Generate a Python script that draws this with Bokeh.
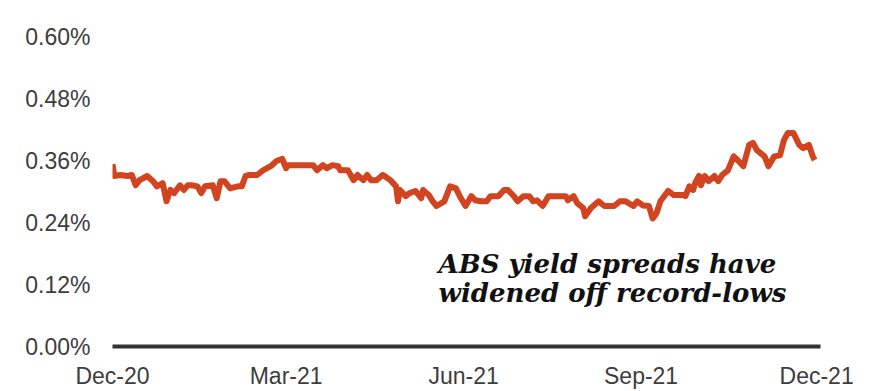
import pandas as pd
from bokeh.plotting import figure
from bokeh.models import (FixedTicker, PrintfTickFormatter, DatetimeTickFormatter,
                          Label, Range1d)
from bokeh.embed import file_html
from bokeh.resources import INLINE

# ABS yield spread, % (Dec-2020 to Dec-2021)
dates = [
    "2020-12-01", "2020-12-02", "2020-12-05", "2020-12-09", "2020-12-11", "2020-12-13",
    "2020-12-15", "2020-12-19", "2020-12-22", "2020-12-24", "2020-12-27", "2020-12-29",
    "2020-12-31", "2021-01-02", "2021-01-05", "2021-01-07", "2021-01-09", "2021-01-11",
    "2021-01-14", "2021-01-16", "2021-01-18", "2021-01-22", "2021-01-24", "2021-01-26",
    "2021-01-28", "2021-01-31", "2021-02-04", "2021-02-06", "2021-02-08", "2021-02-10",
    "2021-02-14", "2021-02-17", "2021-02-21", "2021-02-24", "2021-02-27", "2021-03-01",
    "2021-03-02", "2021-03-15", "2021-03-17", "2021-03-20", "2021-03-22", "2021-03-25",
    "2021-03-28", "2021-03-29", "2021-04-02", "2021-04-05", "2021-04-07", "2021-04-10",
    "2021-04-12", "2021-04-14", "2021-04-17", "2021-04-20", "2021-04-21", "2021-04-24",
    "2021-04-27", "2021-04-28", "2021-04-29", "2021-05-02", "2021-05-04", "2021-05-07",
    "2021-05-10", "2021-05-11", "2021-05-14", "2021-05-16", "2021-05-18", "2021-05-22",
    "2021-05-25", "2021-05-28", "2021-05-30", "2021-06-02", "2021-06-05", "2021-06-07",
    "2021-06-10", "2021-06-13", "2021-06-15", "2021-06-19", "2021-06-22", "2021-06-24",
    "2021-06-27", "2021-06-29", "2021-07-02", "2021-07-05", "2021-07-07", "2021-07-09",
    "2021-07-12", "2021-07-15", "2021-07-24", "2021-07-25", "2021-07-28", "2021-07-30",
    "2021-08-02", "2021-08-03", "2021-08-06", "2021-08-10", "2021-08-13", "2021-08-18",
    "2021-08-21", "2021-08-24", "2021-08-28", "2021-08-30", "2021-09-02", "2021-09-05",
    "2021-09-07", "2021-09-09", "2021-09-11", "2021-09-15", "2021-09-18", "2021-09-23",
    "2021-09-24", "2021-09-26", "2021-09-28", "2021-09-29", "2021-10-01", "2021-10-02",
    "2021-10-04", "2021-10-06", "2021-10-09", "2021-10-11", "2021-10-13", "2021-10-16",
    "2021-10-19", "2021-10-21", "2021-10-24", "2021-10-27", "2021-10-29", "2021-10-31",
    "2021-11-04", "2021-11-06", "2021-11-09", "2021-11-12", "2021-11-14", "2021-11-16",
    "2021-11-19", "2021-11-22", "2021-11-24", "2021-11-27", "2021-11-29", "2021-11-30",
]
spread = [
    0.353, 0.330, 0.332, 0.330, 0.332, 0.312,
    0.322, 0.330, 0.320, 0.310, 0.316, 0.281,
    0.303, 0.297, 0.312, 0.303, 0.312, 0.312,
    0.310, 0.297, 0.310, 0.312, 0.287, 0.320,
    0.320, 0.306, 0.310, 0.310, 0.330, 0.332,
    0.332, 0.341, 0.349, 0.359, 0.363, 0.345,
    0.351, 0.351, 0.341, 0.351, 0.345, 0.351,
    0.349, 0.341, 0.341, 0.322, 0.332, 0.322,
    0.332, 0.322, 0.322, 0.332, 0.330, 0.322,
    0.310, 0.281, 0.303, 0.291, 0.297, 0.301,
    0.287, 0.303, 0.293, 0.281, 0.272, 0.281,
    0.310, 0.306, 0.291, 0.272, 0.291, 0.283,
    0.281, 0.281, 0.291, 0.291, 0.303, 0.303,
    0.291, 0.281, 0.291, 0.291, 0.281, 0.283,
    0.272, 0.291, 0.291, 0.283, 0.291, 0.277,
    0.268, 0.252, 0.268, 0.281, 0.272, 0.272,
    0.281, 0.281, 0.272, 0.281, 0.273, 0.272,
    0.248, 0.258, 0.281, 0.301, 0.293, 0.293,
    0.291, 0.310, 0.303, 0.316, 0.330, 0.312,
    0.330, 0.320, 0.330, 0.320, 0.332, 0.341,
    0.368, 0.361, 0.349, 0.390, 0.394, 0.380,
    0.368, 0.349, 0.368, 0.370, 0.399, 0.413,
    0.413, 0.390, 0.384, 0.390, 0.368, 0.361,
]

tick_dates = ["2020-12-01", "2021-03-01", "2021-06-01", "2021-09-01", "2021-12-01"]
y_ticks = [0.0, 0.12, 0.24, 0.36, 0.48, 0.60]
note_lines = ["ABS yield spreads have", "widened off record-lows"]

x = pd.to_datetime(dates)
tick_ms = [pd.Timestamp(d).value / 1e6 for d in tick_dates]

p = figure(width=870, height=391, x_axis_type="datetime",
           output_backend="svg", toolbar_location=None,
           min_border_left=112, min_border_right=50,
           min_border_top=36, min_border_bottom=42)
p.x_range = Range1d(pd.Timestamp("2020-12-01"), pd.Timestamp("2021-12-03"))
p.y_range = Range1d(0, 0.6)

p.line(x, spread, line_color="#d2441f", line_width=6, line_join="round")

p.grid.visible = False
p.outline_line_color = None
p.background_fill_color = "white"
p.border_fill_color = "white"

label_font = "Liberation Sans"
label_color = "#3d3d3d"

xa = p.xaxis[0]
xa.ticker = FixedTicker(ticks=tick_ms)
fmt = "%b-%y"
xa.formatter = DatetimeTickFormatter(days=fmt, months=fmt, years=fmt, hours=fmt,
                                     minutes=fmt, seconds=fmt, milliseconds=fmt,
                                     microseconds=fmt, hourmin=fmt, minsec=fmt)
xa.axis_line_color = "#333333"
xa.axis_line_width = 4
xa.major_tick_line_color = None
xa.minor_tick_line_color = None
xa.major_tick_out = 0
xa.major_label_standoff = 16
xa.major_label_text_font = label_font
xa.major_label_text_font_size = "23px"
xa.major_label_text_color = label_color

ya = p.yaxis[0]
ya.ticker = FixedTicker(ticks=y_ticks)
ya.formatter = PrintfTickFormatter(format="%.2f%%")
ya.axis_line_color = None
ya.major_tick_line_color = None
ya.minor_tick_line_color = None
ya.major_tick_out = 0
ya.major_label_standoff = 22
ya.major_label_text_font = label_font
ya.major_label_text_font_size = "23px"
ya.major_label_text_color = label_color

note_x = pd.Timestamp("2021-05-19")
for txt, yv in zip(note_lines, [0.160, 0.103]):
    p.add_layout(Label(x=note_x, y=yv, text=txt, text_font="DejaVu Serif",
                       text_font_style="bold italic", text_font_size="26px",
                       text_color="#111111", text_baseline="alphabetic"))

open("out.html", "w").write(file_html(p, INLINE))
